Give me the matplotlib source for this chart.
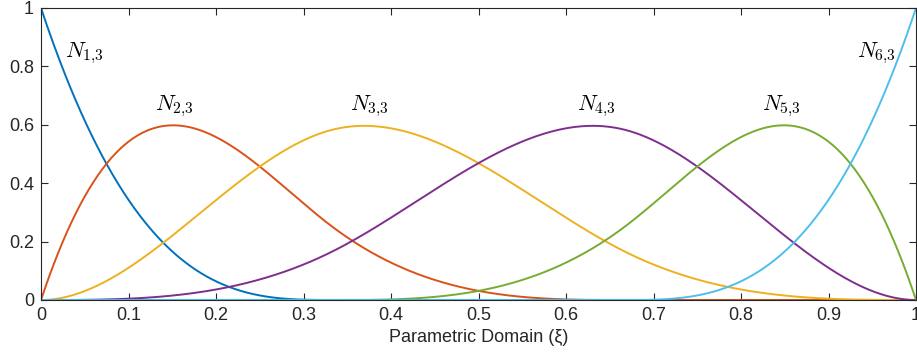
import numpy as np
import matplotlib
matplotlib.use('Agg')
import matplotlib.pyplot as plt

# clamped cubic knot vector (the data behind the basis curves)
knots = [0, 0, 0, 0, 1 / 3, 2 / 3, 1, 1, 1, 1]
degree = 3
labels = ['$N_{1{,}3}$', '$N_{2{,}3}$', '$N_{3{,}3}$', '$N_{4{,}3}$', '$N_{5{,}3}$', '$N_{6{,}3}$']
label_x = [0.0274, 0.130, 0.353, 0.613, 0.824, 0.9326]
label_y = [0.832, 0.651, 0.651, 0.651, 0.651, 0.832]
colors = ['#0072BD', '#D95319', '#EDB120', '#7E2F8E', '#77AC30', '#4DBEEE']

xi = np.linspace(0, 1, 1001)


def basis(i, p, x):
    # Cox-de Boor recursion
    t = knots
    if p == 0:
        if t[i + 1] == 1 and t[i] < 1:
            return ((x >= t[i]) & (x <= t[i + 1])).astype(float)
        return ((x >= t[i]) & (x < t[i + 1])).astype(float)
    out = np.zeros_like(x)
    if t[i + p] > t[i]:
        out += (x - t[i]) / (t[i + p] - t[i]) * basis(i, p - 1, x)
    if t[i + p + 1] > t[i + 1]:
        out += (t[i + p + 1] - x) / (t[i + p + 1] - t[i + 1]) * basis(i + 1, p - 1, x)
    return out


plt.rcParams['font.family'] = ['Liberation Sans', 'DejaVu Sans']
plt.rcParams['mathtext.fontset'] = 'cm'

fig = plt.figure(figsize=(9.17, 3.63), dpi=100)
ax = fig.add_axes([41 / 917, 63 / 363, 875 / 917, 292 / 363])

n = len(knots) - degree - 1
for i in range(n):
    ax.plot(xi, basis(i, degree, xi), color=colors[i], lw=1.4)
    ax.text(label_x[i], label_y[i], labels[i], fontsize=16, ha='left', va='baseline')

ax.set_xlim(0, 1)
ax.set_ylim(0, 1)
ax.set_xticks(np.arange(0, 1.01, 0.1))
ax.set_xticklabels(['0', '0.1', '0.2', '0.3', '0.4', '0.5', '0.6', '0.7', '0.8', '0.9', '1'])
ax.set_yticks(np.arange(0, 1.01, 0.2))
ax.set_yticklabels(['0', '0.2', '0.4', '0.6', '0.8', '1'])
ax.tick_params(direction='in', top=True, right=True, labelsize=13, length=5, width=0.8,
               colors='#262626', pad=5)
for s in ax.spines.values():
    s.set_color('#262626')
    s.set_linewidth(0.8)
ax.set_xlabel('Parametric Domain (ξ)', fontsize=13, labelpad=4, color='#262626')

fig.savefig('out.png', dpi=100)
